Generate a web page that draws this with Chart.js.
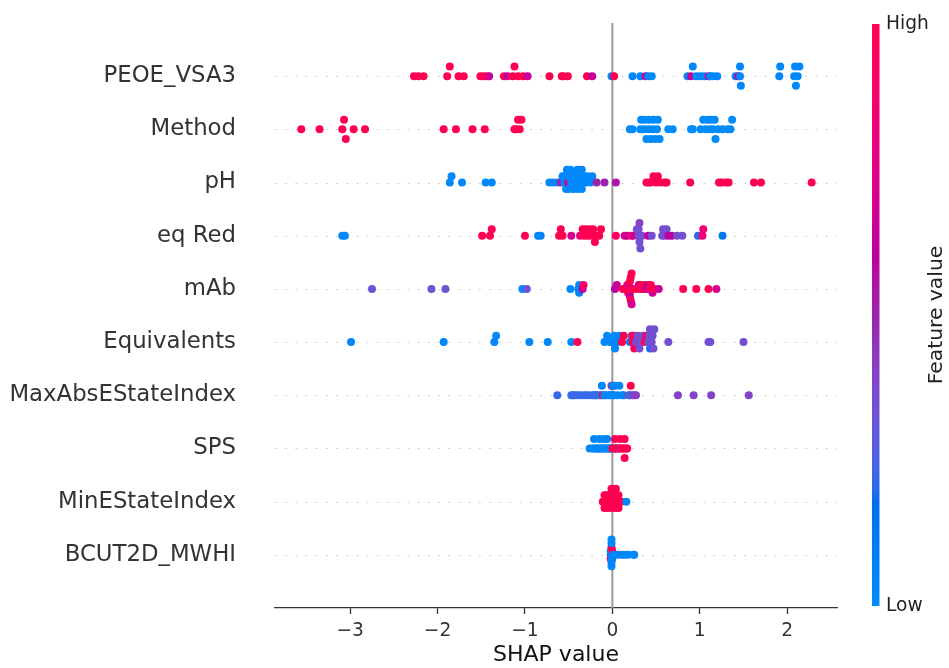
<!DOCTYPE html>
<html>
<head>
<meta charset="utf-8">
<title>SHAP summary</title>
<script src="https://cdn.jsdelivr.net/npm/chart.js@4.4.1/dist/chart.umd.min.js"></script>
<style>
  html, body { margin: 0; padding: 0; background: #ffffff; }
  #wrap { position: relative; width: 949px; height: 668px; }
</style>
</head>
<body>
<div id="wrap"><canvas id="shapChart"></canvas></div>
<script>
// Feature names, top row first
const featureNames = ['PEOE_VSA3', 'Method', 'pH', 'eq Red', 'mAb', 'Equivalents',
  'MaxAbsEStateIndex', 'SPS', 'MinEStateIndex', 'BCUT2D_MWHI'];

const xTicks = [-3, -2, -1, 0, 1, 2];

// Each point: [SHAP value, normalised feature value (0 = low, 1 = high)]
const peoePts = [
  [-2.27, 1], [-2.22, 1], [-2.16, 1], [-1.89, 1], [-1.86, 1], [-1.76, 1], [-1.70, 1],
  [-1.51, 1], [-1.47, 1], [-1.43, 1], [-1.41, 0.65], [-1.24, 1], [-1.20, 0.65], [-1.14, 1],
  [-1.12, 1], [-1.08, 1], [-1.02, 1], [-0.97, 0.65], [-0.72, 1], [-0.58, 1], [-0.56, 1],
  [-0.51, 1], [-0.29, 1], [-0.23, 0.65], [-0.01, 0.02], [0.02, 1], [0.23, 0.02], [0.32, 0.02],
  [0.38, 0.65], [0.41, 0.02], [0.45, 0.02], [0.86, 0.02], [0.90, 0.65], [0.92, 0.02],
  [0.96, 0.02], [1.01, 0.02], [1.05, 0.02], [1.10, 0.65], [1.12, 0.02], [1.15, 0.02],
  [1.20, 0.02], [1.41, 0.02], [1.44, 0.65], [1.46, 0.02], [1.46, 0.02], [1.47, 0.02],
  [1.91, 0.02], [1.92, 0.02], [2.08, 0.02], [2.09, 0.02], [2.10, 0.02], [2.12, 0.02], [2.14, 0.02]
];

const methodPts = [
  [-3.56, 1], [-3.35, 1], [-3.09, 1], [-3.07, 1], [-3.05, 1], [-2.96, 1], [-2.83, 1],
  [-1.93, 1], [-1.79, 1], [-1.60, 1], [-1.46, 1], [-1.12, 1], [-1.10, 1], [-1.08, 1],
  [-1.06, 1], [-1.04, 1],
  [0.20, 0], [0.23, 0], [0.32, 0], [0.33, 0], [0.36, 0], [0.37, 0], [0.39, 0], [0.41, 0],
  [0.42, 0], [0.44, 0], [0.46, 0], [0.47, 0], [0.49, 0], [0.51, 0], [0.52, 0], [0.54, 0],
  [0.64, 0], [0.69, 0], [0.90, 0], [0.92, 0], [1.01, 0], [1.04, 0], [1.07, 0], [1.09, 0],
  [1.12, 0], [1.13, 0], [1.15, 0], [1.17, 0], [1.18, 0], [1.21, 0], [1.26, 0], [1.32, 0],
  [1.35, 0], [1.37, 0]
];

const phPts = [
  [-1.86, 0.02], [-1.84, 0.02], [-1.72, 0.02], [-1.45, 0.02], [-1.38, 0.02],
  [-0.72, 0.02], [-0.68, 0.02], [-0.63, 0.02], [-0.59, 0.5], [-0.57, 0.02], [-0.55, 0.02],
  [-0.55, 0.02], [-0.53, 0.02], [-0.52, 0.02], [-0.51, 0.55], [-0.50, 0.02], [-0.50, 0.02],
  [-0.48, 0.02], [-0.47, 0.02], [-0.45, 0.02], [-0.45, 0.02], [-0.43, 0.02], [-0.42, 0.02],
  [-0.40, 0.02], [-0.40, 0.02], [-0.38, 0.02], [-0.37, 0.02], [-0.35, 0.02], [-0.35, 0.02],
  [-0.33, 0.02], [-0.32, 0.02], [-0.30, 0.02], [-0.28, 0.02], [-0.25, 0.02], [-0.23, 0.02],
  [-0.18, 0.5], [-0.09, 0.5], [0.04, 0.55],
  [0.39, 1], [0.42, 1], [0.44, 0.95], [0.47, 1], [0.50, 1], [0.52, 1], [0.55, 1], [0.60, 1],
  [0.62, 1], [0.89, 1], [1.22, 1], [1.25, 1], [1.30, 1], [1.33, 1], [1.62, 1], [1.70, 1], [2.28, 1]
];

const eqRedPts = [
  [-3.09, 0.02], [-3.06, 0.02], [-1.49, 1], [-1.40, 1], [-1.38, 1], [-1.00, 1], [-0.85, 0.05],
  [-0.82, 0.05], [-0.61, 1], [-0.59, 1], [-0.57, 1], [-0.47, 0.7], [-0.37, 0.85], [-0.34, 1],
  [-0.32, 1], [-0.30, 1], [-0.28, 1], [-0.26, 1], [-0.24, 1], [-0.22, 1], [-0.20, 1],
  [-0.18, 1], [-0.15, 1], [-0.13, 1], [0.04, 0.95], [0.14, 0.7], [0.17, 0.65], [0.22, 0.9],
  [0.24, 0.7], [0.28, 0.35], [0.30, 0.35], [0.30, 0.35], [0.31, 0.35], [0.31, 0.4],
  [0.32, 0.35], [0.34, 0.35], [0.41, 0.65], [0.45, 0.35], [0.57, 0.35], [0.58, 0.35],
  [0.60, 0.35], [0.62, 0.35], [0.64, 0.6], [0.68, 0.6], [0.74, 0.35], [0.80, 0.35],
  [0.98, 0.2], [1.03, 0.85], [1.04, 0.85], [1.26, 0.15]
];

const mAbPts = [
  [-2.75, 0.33], [-2.07, 0.33], [-1.91, 0.33], [-1.03, 0.02], [-0.98, 0.33], [-0.48, 0.02],
  [-0.39, 0.02], [-0.38, 0.02], [-0.38, 0.05], [-0.34, 0.65], [-0.33, 0.9],
  [0.03, 0.6], [0.05, 0.65], [0.12, 1], [0.15, 1], [0.17, 0.9], [0.18, 1], [0.19, 1],
  [0.19, 0.7], [0.20, 1], [0.20, 1], [0.20, 0.65], [0.21, 1], [0.21, 1], [0.22, 1],
  [0.22, 0.7], [0.23, 1], [0.28, 1], [0.30, 0.7], [0.32, 1], [0.33, 1], [0.35, 1],
  [0.37, 1], [0.39, 0.65], [0.41, 0.6], [0.43, 1], [0.44, 1], [0.46, 0.65], [0.48, 1],
  [0.53, 0.65], [0.81, 1], [0.96, 1], [1.10, 1], [1.19, 0.7]
];

const equivPts = [
  [-2.99, 0.02], [-1.93, 0.02], [-1.35, 0.02], [-1.33, 0.02], [-0.95, 0.02], [-0.74, 0.02],
  [-0.47, 0.02], [-0.40, 1],
  [-0.09, 0.02], [-0.06, 0.02], [-0.03, 0.02], [0.00, 0.02], [0.02, 0.02], [0.03, 0.02],
  [0.06, 0.02], [0.08, 0.02], [0.11, 1], [0.13, 1], [0.20, 0.05], [0.22, 0.4], [0.23, 1],
  [0.24, 1], [0.25, 0.95], [0.27, 0.35], [0.29, 0.35], [0.31, 0.35], [0.33, 0.35],
  [0.35, 0.35], [0.37, 0.95], [0.39, 0.95], [0.41, 0.35], [0.42, 0.35], [0.43, 0.2],
  [0.43, 0.35], [0.45, 0.35], [0.46, 0.35], [0.47, 0.35], [0.48, 0.35],
  [0.64, 0.35], [1.10, 0.35], [1.12, 0.35], [1.50, 0.35]
];

const maxAbsPts = [
  [-0.63, 0.22], [-0.47, 0.22], [-0.45, 0.22], [-0.43, 0.22], [-0.40, 0.22], [-0.37, 0.22],
  [-0.33, 0.22], [-0.30, 0.22], [-0.27, 0.22], [-0.23, 0.22], [-0.21, 0.22], [-0.19, 0.22],
  [-0.18, 0.22], [-0.15, 0.22],
  [-0.13, 0.02], [-0.12, 0.02], [-0.11, 1], [-0.09, 0.02], [-0.07, 0.02], [-0.04, 0.02],
  [-0.02, 0.02], [-0.01, 1], [0.00, 0.02], [0.00, 0.02], [0.02, 0.02], [0.03, 0.02],
  [0.06, 0.02], [0.08, 0.02], [0.11, 0.02], [0.13, 0.02],
  [0.19, 0.95], [0.20, 0.02], [0.21, 1], [0.23, 0.4], [0.25, 0.4], [0.27, 0.4],
  [0.75, 0.4], [0.93, 0.4], [1.13, 0.4], [1.56, 0.4]
];

const spsPts = [
  [-0.26, 0.02], [-0.23, 0.02], [-0.21, 0.02], [-0.21, 0.02], [-0.19, 0.02], [-0.18, 0.02],
  [-0.16, 0.02], [-0.15, 0.02], [-0.15, 0.02], [-0.13, 0.02], [-0.12, 0.02], [-0.10, 0.02],
  [-0.10, 0.02], [-0.09, 0.02], [-0.07, 0.02], [-0.06, 0.02], [-0.06, 0.02], [-0.04, 0.02],
  [-0.03, 0.02], [-0.01, 0.02], [0.04, 0.02],
  [0.00, 1], [0.02, 1], [0.03, 1], [0.03, 1], [0.05, 1], [0.06, 1], [0.08, 0.45], [0.09, 1],
  [0.09, 1], [0.11, 1], [0.12, 1], [0.14, 1], [0.14, 1], [0.14, 1], [0.16, 1], [0.17, 1]
];

const minEPts = [
  [-0.11, 1], [-0.10, 1], [-0.09, 1], [-0.09, 1], [-0.09, 1], [-0.07, 1], [-0.07, 1],
  [-0.05, 1], [-0.05, 1], [-0.05, 1], [-0.04, 1], [-0.02, 1], [-0.01, 1], [-0.01, 1],
  [-0.01, 1], [-0.01, 1], [0.01, 1], [0.02, 1], [0.04, 1], [0.04, 1], [0.04, 1], [0.04, 1],
  [0.06, 1], [0.07, 1], [0.07, 1], [0.07, 1], [0.09, 1], [0.10, 1], [0.16, 0.02]
];

const bcutPts = [
  [-0.02, 0.02], [-0.02, 0.02], [-0.02, 1], [-0.01, 0.02], [-0.01, 0.02], [-0.01, 0.02],
  [-0.01, 1], [-0.01, 0.02], [-0.01, 0.02], [-0.01, 0.02], [-0.01, 0.02], [0.00, 0.02],
  [0.00, 1], [0.00, 0.02], [0.01, 0.02], [0.07, 0.02], [0.11, 0.02], [0.14, 0.02],
  [0.18, 0.02], [0.24, 0.02], [0.25, 0.02]
];

const rowPoints = [peoePts, methodPts, phPts, eqRedPts, mAbPts, equivPts,
  maxAbsPts, spsPts, minEPts, bcutPts];

const ROW_HEIGHT = 0.4;
const FONT = "'DejaVu Sans', 'Liberation Sans', sans-serif";

// Blue -> purple -> red map, interpolated in LCH space
function redBlue(t) {
  t = Math.min(1, Math.max(0, t));
  const L = t < 0.5 ? 54 - 28 * t : 40 + 28 * (t - 0.5);
  const C = 70 + 20 * t;
  const H = 4.6588 + (0.35470565 + 2 * Math.PI - 4.6588) * t;
  const a = C * Math.cos(H), b = C * Math.sin(H);
  const fy = (L + 16) / 116, fx = a / 500 + fy, fz = fy - b / 200;
  const inv = v => v > 0.2068966 ? v * v * v : (v - 16 / 116) / 7.787;
  const X = 0.95047 * inv(fx), Y = inv(fy), Z = 1.08883 * inv(fz);
  const lin = [
    3.2404542 * X - 1.5371385 * Y - 0.4985314 * Z,
    -0.9692660 * X + 1.8760108 * Y + 0.0415560 * Z,
    0.0556434 * X - 0.2040259 * Y + 1.0572252 * Z
  ];
  const rgb = lin.map(v => {
    v = v > 0.0031308 ? 1.055 * Math.pow(v, 1 / 2.4) - 0.055 : 12.92 * v;
    return Math.round(255 * Math.min(1, Math.max(0, v)));
  });
  return `rgb(${rgb.join(',')})`;
}

// Beeswarm jitter: points sharing a bin are stacked alternately above/below the row
function swarmOffsets(values) {
  const nbins = 100;
  const lo = Math.min(...values), hi = Math.max(...values);
  const quant = values.map(v => Math.round(nbins * (v - lo) / (hi - lo + 1e-8)));
  const order = values.map((_, i) => i).sort((a, b) => quant[a] - quant[b] || a - b);
  const ys = new Array(values.length).fill(0);
  let layer = 0, last = -1;
  for (const i of order) {
    if (quant[i] !== last) layer = 0;
    ys[i] = Math.ceil(layer / 2) * ((layer % 2) * 2 - 1);
    layer++;
    last = quant[i];
  }
  const top = Math.max(...ys.map(y => y + 1));
  return ys.map(y => y * 0.9 * (ROW_HEIGHT / top));
}

const nRows = featureNames.length;
const datasets = rowPoints.map((pts, r) => {
  const pos = nRows - 1 - r;
  const offs = swarmOffsets(pts.map(p => p[0]));
  return {
    label: featureNames[r],
    data: pts.map((p, i) => ({ x: p[0], y: pos + offs[i] })),
    backgroundColor: pts.map(p => redBlue(p[1])),
    borderWidth: 0,
    pointRadius: 4,
    pointHoverRadius: 4
  };
});

// Dotted row guides and the zero line, under the points
const guides = {
  id: 'guides',
  beforeDatasetsDraw(chart) {
    const { ctx, chartArea: area, scales: { x, y } } = chart;
    ctx.save();
    ctx.strokeStyle = '#cccccc';
    ctx.lineWidth = 1;
    ctx.setLineDash([1.7, 8.5]);
    for (let i = 0; i < nRows; i++) {
      const py = Math.round(y.getPixelForValue(i)) + 0.5;
      ctx.beginPath();
      ctx.moveTo(area.left, py);
      ctx.lineTo(area.right, py);
      ctx.stroke();
    }
    ctx.setLineDash([]);
    ctx.strokeStyle = '#999999';
    ctx.lineWidth = 2;
    const zx = x.getPixelForValue(0);
    ctx.beginPath();
    ctx.moveTo(zx, area.top);
    ctx.lineTo(zx, area.bottom);
    ctx.stroke();
    ctx.restore();
  }
};

// Colour bar on the right
const colorBar = {
  id: 'colorBar',
  afterDraw(chart) {
    const { ctx, chartArea: area } = chart;
    const left = 872, width = 7.5;
    const top = area.top + 1, bottom = area.bottom - 2;
    const grad = ctx.createLinearGradient(0, bottom, 0, top);
    for (let i = 0; i <= 40; i++) grad.addColorStop(i / 40, redBlue(i / 40));
    ctx.save();
    ctx.fillStyle = grad;
    ctx.fillRect(left, top, width, bottom - top);
    ctx.fillStyle = '#222222';
    ctx.font = `18.6px ${FONT}`;
    ctx.textAlign = 'left';
    ctx.textBaseline = 'middle';
    ctx.fillText('High', 886, top);
    ctx.fillText('Low', 886, bottom);
    ctx.font = `20.3px ${FONT}`;
    ctx.translate(937, (top + bottom) / 2);
    ctx.rotate(-Math.PI / 2);
    ctx.textAlign = 'center';
    ctx.fillText('Feature value', 0, 0);
    ctx.restore();
  }
};

new Chart(document.getElementById('shapChart'), {
  type: 'scatter',
  data: { datasets },
  plugins: [guides, colorBar],
  options: {
    responsive: true,
    maintainAspectRatio: false,
    animation: false,
    layout: { padding: { top: 23, right: 112, bottom: 0, left: 0 } },
    plugins: {
      legend: { display: false },
      tooltip: { enabled: false }
    },
    scales: {
      x: {
        type: 'linear',
        min: -3.86,
        max: 2.57,
        afterFit(scale) {
          scale.height = 60;
          scale.paddingLeft = 0;
          scale.paddingRight = 0;
        },
        afterBuildTicks(scale) { scale.ticks = xTicks.map(v => ({ value: v })); },
        border: { display: true, color: '#333333', width: 1.3 },
        grid: { drawOnChartArea: false, drawTicks: true, tickLength: 6, tickColor: '#333333', tickWidth: 1.3 },
        ticks: {
          color: '#333333',
          padding: 6,
          font: { family: FONT, size: 18.6 },
          callback: v => (v < 0 ? '\u2212' + Math.abs(v) : String(v))
        },
        title: {
          display: true,
          text: 'SHAP value',
          color: '#111111',
          padding: { top: 0, bottom: 0 },
          font: { family: FONT, size: 22 }
        }
      },
      y: {
        type: 'linear',
        min: -1,
        max: nRows,
        afterFit(scale) {
          scale.width = 275;
          scale.paddingTop = 0;
          scale.paddingBottom = 0;
        },
        afterBuildTicks(scale) {
          scale.ticks = featureNames.map((_, i) => ({ value: i }));
        },
        border: { display: false },
        grid: { display: false, drawTicks: false },
        ticks: {
          color: '#333333',
          padding: 39,
          font: { family: FONT, size: 22.8 },
          callback: v => featureNames[nRows - 1 - v]
        }
      }
    }
  }
});
</script>
</body>
</html>
